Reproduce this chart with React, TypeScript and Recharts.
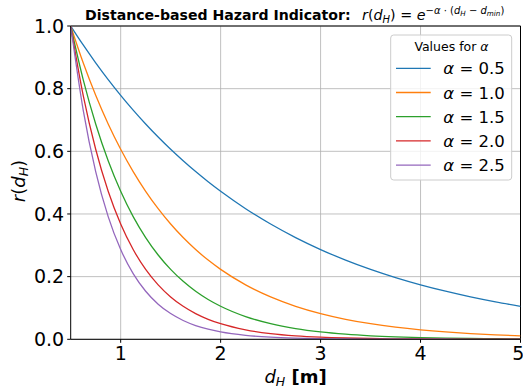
import React from "react";
import { LineChart, Line, XAxis, YAxis, CartesianGrid, ReferenceLine } from "recharts";

const dH = [0.5, 0.625, 0.75, 0.875, 1.0, 1.125, 1.25, 1.375, 1.5, 1.625, 1.75, 1.875, 2.0, 2.25, 2.5, 2.75, 3.0, 3.25, 3.5, 3.75, 4.0, 4.25, 4.5, 4.75, 5.0];
const alpha05 = [1, 0.9394, 0.8825, 0.829, 0.7788, 0.7316, 0.6873, 0.6456, 0.6065, 0.5698, 0.5353, 0.5028, 0.4724, 0.4169, 0.3679, 0.3247, 0.2865, 0.2528, 0.2231, 0.1969, 0.1738, 0.1534, 0.1353, 0.1194, 0.1054];
const alpha10 = [1, 0.8825, 0.7788, 0.6873, 0.6065, 0.5353, 0.4724, 0.4169, 0.3679, 0.3247, 0.2865, 0.2528, 0.2231, 0.1738, 0.1353, 0.1054, 0.0821, 0.0639, 0.0498, 0.0388, 0.0302, 0.0235, 0.0183, 0.0143, 0.0111];
const alpha15 = [1, 0.829, 0.6873, 0.5698, 0.4724, 0.3916, 0.3247, 0.2691, 0.2231, 0.185, 0.1534, 0.1271, 0.1054, 0.0724, 0.0498, 0.0342, 0.0235, 0.0162, 0.0111, 0.0076, 0.0052, 0.0036, 0.0025, 0.0017, 0.0012];
const alpha20 = [1, 0.7788, 0.6065, 0.4724, 0.3679, 0.2865, 0.2231, 0.1738, 0.1353, 0.1054, 0.0821, 0.0639, 0.0498, 0.0302, 0.0183, 0.0111, 0.0067, 0.0041, 0.0025, 0.0015, 0.0009, 0.0006, 0.0003, 0.0002, 0.0001];
const alpha25 = [1, 0.7316, 0.5353, 0.3916, 0.2865, 0.2096, 0.1534, 0.1122, 0.0821, 0.0601, 0.0439, 0.0321, 0.0235, 0.0126, 0.0067, 0.0036, 0.0019, 0.001, 0.0006, 0.0003, 0.0002, 0.0001, 0, 0, 0];

const seriesKeys = ["a05", "a10", "a15", "a20", "a25"];
const seriesLabels = ["0.5", "1.0", "1.5", "2.0", "2.5"];
const seriesColors = ["#1f77b4", "#ff7f0e", "#2ca02c", "#d62728", "#9467bd"];
const xTicks = [1, 2, 3, 4, 5];
const yTicks = [0, 0.2, 0.4, 0.6, 0.8, 1.0];

const data = dH.map((x, i) => ({
  x,
  a05: alpha05[i],
  a10: alpha10[i],
  a15: alpha15[i],
  a20: alpha20[i],
  a25: alpha25[i],
}));

const FONT = "DejaVu Sans";

export default function App() {
  return (
    <div style={{ position: "absolute", left: 0, top: 0, width: 523, height: 390, background: "#fff" }}>
      <LineChart
        width={523}
        height={390}
        data={data}
        margin={{ top: 26, right: 2.5, left: 0, bottom: 0 }}
      >
        <CartesianGrid stroke="#b0b0b0" strokeWidth={0.8} horizontalValues={yTicks} verticalValues={xTicks} />
        <XAxis
          dataKey="x"
          type="number"
          domain={[0.5, 5]}
          ticks={xTicks}
          allowDataOverflow
          height={50.7}
          stroke="#000"
          tickSize={3.5}
          tickMargin={4}
          tick={{ fill: "#000", fontSize: 19, fontFamily: FONT }}
          tickFormatter={(v: number) => String(v)}
        />
        <YAxis
          type="number"
          domain={[0, 1]}
          ticks={yTicks}
          allowDataOverflow
          width={70.7}
          stroke="#000"
          tickSize={3.5}
          tickMargin={3}
          tick={{ fill: "#000", fontSize: 19, fontFamily: FONT }}
          tickFormatter={(v: number) => v.toFixed(1)}
        />
        <ReferenceLine y={1} stroke="#000" strokeWidth={1} ifOverflow="visible" />
        <ReferenceLine x={5} stroke="#000" strokeWidth={1} ifOverflow="visible" />
        {seriesKeys.map((k, i) => (
          <Line
            key={k}
            dataKey={k}
            type="monotone"
            stroke={seriesColors[i]}
            strokeWidth={1.3}
            dot={false}
            activeDot={false}
            isAnimationActive={false}
          />
        ))}
      </LineChart>
      <svg
        width={523}
        height={390}
        style={{ position: "absolute", left: 0, top: 0, pointerEvents: "none" }}
        fontFamily={FONT}
      >
        <text x={85} y={20} fontSize={14.1} fontWeight="bold" fill="#000">Distance-based Hazard Indicator:</text>
        <text x={362} y={20} fontSize={14.3} fill="#000">
          <tspan fontStyle="italic">r</tspan>
          <tspan>(</tspan>
          <tspan fontStyle="italic">d</tspan>
          <tspan fontStyle="italic" fontSize={10} dy={2.5}>H</tspan>
          <tspan dy={-2.5}>) = </tspan>
          <tspan fontStyle="italic">e</tspan>
          <tspan fontSize={10} dy={-6}>−</tspan>
          <tspan fontSize={10} fontStyle="italic">α</tspan>
          <tspan fontSize={10}> · (</tspan>
          <tspan fontSize={10} fontStyle="italic">d</tspan>
          <tspan fontSize={7.2} fontStyle="italic" dy={2}>H</tspan>
          <tspan fontSize={10} dy={-2}> − </tspan>
          <tspan fontSize={10} fontStyle="italic">d</tspan>
          <tspan fontSize={7.2} fontStyle="italic" dy={2}>min</tspan>
          <tspan fontSize={10} dy={-2}>)</tspan>
        </text>
        <text x={295.6} y={383} fontSize={18} textAnchor="middle" fill="#000">
          <tspan fontStyle="italic">d</tspan>
          <tspan fontStyle="italic" fontSize={12.5} dy={3}>H</tspan>
          <tspan dy={-3} fontWeight="bold"> [m]</tspan>
        </text>
        <text x={25} y={181} fontSize={18} textAnchor="middle" fill="#000" transform="rotate(-90, 25, 181)">
          <tspan fontStyle="italic">r</tspan>
          <tspan>(</tspan>
          <tspan fontStyle="italic">d</tspan>
          <tspan fontStyle="italic" fontSize={12.5} dy={3}>H</tspan>
          <tspan dy={-3}>)</tspan>
        </text>
        <rect x={390.7} y={35} width={121} height={145} rx={3} ry={3} fill="#fff" fillOpacity={0.8} stroke="#cccccc" strokeWidth={1} />
        <text x={451.5} y={51} fontSize={12.5} textAnchor="middle" fill="#000">
          Values for <tspan fontStyle="italic">α</tspan>
        </text>
        {seriesLabels.map((lab, i) => {
          const cy = 68.3 + i * 24.2;
          return (
            <g key={lab}>
              <line x1={396} x2={430.7} y1={cy} y2={cy} stroke={seriesColors[i]} strokeWidth={1.3} />
              <text x={443.3} y={cy + 6} fontSize={16.5} fill="#000">
                <tspan fontStyle="italic">α</tspan> = {lab}
              </text>
            </g>
          );
        })}
      </svg>
    </div>
  );
}
